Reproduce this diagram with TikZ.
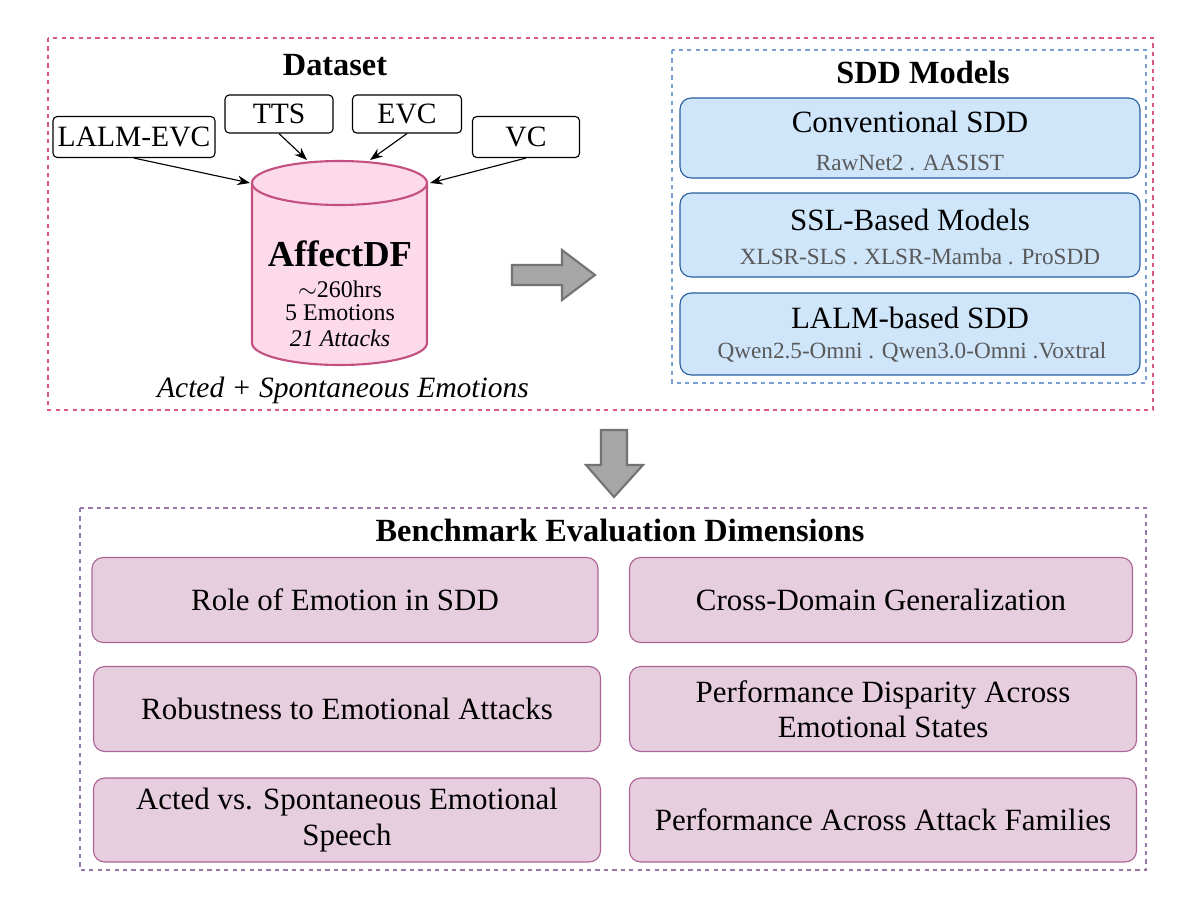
\documentclass[tikz,border=0pt]{standalone}
\usepackage{fontspec}
\setmainfont{Liberation Serif}
\usetikzlibrary{arrows.meta,positioning}
\definecolor{dspink}{RGB}{214,90,130}
\definecolor{cylfill}{RGB}{252,218,234}
\definecolor{cylline}{RGB}{196,80,130}
\definecolor{sddblue}{RGB}{120,160,210}
\definecolor{boxblue}{RGB}{206,229,250}
\definecolor{boxline}{RGB}{40,95,160}
\definecolor{evalfill}{RGB}{231,206,222}
\definecolor{evalline}{RGB}{170,100,150}
\definecolor{evaldash}{RGB}{150,120,170}
\tikzset{
  src/.style={draw,thick,rounded corners=3pt,font=\fontsize{21}{22}\selectfont},
  model/.style={draw=boxline,fill=boxblue,rounded corners=8pt,thick},
  evalbox/.style={draw=evalline,fill=evalfill,rounded corners=8pt,thick,align=center,font=\fontsize{22}{25}\selectfont},
  blockarrow/.style={draw=black!55,fill=black!35,line width=1.5pt},
  conn/.style={-{Stealth[length=9pt]},thick},
  stat/.style={font=\fontsize{17}{18}\selectfont,inner sep=0.5pt},
}
\begin{document}
\begin{tikzpicture}[x=0.025cm,y=-0.025cm]
\useasboundingbox (0,0) rectangle (1200,909);

% Dataset
\draw[dspink,dashed,thick] (48,38) rectangle (1153,410);
\node[font=\bfseries\fontsize{23}{26}\selectfont] (dtitle) at (335,65) {Dataset};
\node[src,minimum width=161*0.025cm,minimum height=41*0.025cm] (lalm) at (134,137) {LALM-EVC};
\node[src,minimum width=108*0.025cm,minimum height=38*0.025cm] (tts) at (279,114) {TTS};
\node[src,minimum width=109*0.025cm,minimum height=38*0.025cm] (evc) at (407,114) {EVC};
\node[src,minimum width=107*0.025cm,minimum height=41*0.025cm] (vc) at (526,137) {VC};

% cylinder
\draw[cylline,fill=cylfill,line width=1.5pt] (252,183) -- (252,343) arc[start angle=180,end angle=0,x radius=87.5,y radius=22] -- (427,183);
\draw[cylline,fill=cylfill,line width=1.5pt] (339.5,183) ellipse[x radius=87.5,y radius=22];
\coordinate (cyltl) at (250,183);
\coordinate (cyltt) at (307,160);
\coordinate (cyltr) at (370,160);
\coordinate (cylr) at (430,183);
\node[font=\bfseries\fontsize{26}{28}\selectfont,inner sep=1pt] (affect) at (340,254) {AffectDF};
\node[stat] (hrs) at (340,289) {$\sim$260hrs};
\node[stat] (emo) at (340,313) {5 Emotions};
\node[stat,font=\itshape\fontsize{17}{18}\selectfont] (att) at (340,338) {21 Attacks};
\node[font=\itshape\fontsize{21}{22}\selectfont] (acted) at (343,390) {Acted + Spontaneous Emotions};
\draw[conn] (lalm.south) -- (cyltl);
\draw[conn] (tts.south) -- (cyltt);
\draw[conn] (evc.south) -- (cyltr);
\draw[conn] (vc.south) -- (cylr);

% right arrow
\draw[blockarrow] (512,265) -- (562,265) -- (562,250) -- (595,275) -- (562,300) -- (562,285) -- (512,285) -- cycle;

% SDD models
\draw[sddblue,dashed,thick] (672,50) rectangle (1146,383);
\node[font=\bfseries\fontsize{23}{26}\selectfont] (stitle) at (923,72) {SDD Models};
\draw[model] (680,98) rectangle (1140,178);
\node[font=\fontsize{22}{24}\selectfont] (conv) at (910,122) {Conventional SDD};
\node[font=\fontsize{16.5}{18}\selectfont,text=black!65] (convsub) at (910,163) {RawNet2 . AASIST};
\draw[model] (680,193) rectangle (1140,277);
\node[font=\fontsize{22}{24}\selectfont] (ssl) at (910,220) {SSL-Based Models};
\node[font=\fontsize{16.5}{18}\selectfont,text=black!65] (sslsub) at (920,257) {XLSR-SLS . XLSR-Mamba . ProSDD};
\draw[model] (680,293) rectangle (1140,375);
\node[font=\fontsize{22}{24}\selectfont] (lalmsdd) at (910,318) {LALM-based SDD};
\node[font=\fontsize{16.5}{18}\selectfont,text=black!65] (lalmsub) at (912,352) {Qwen2.5-Omni . Qwen3.0-Omni .Voxtral};

% down arrow
\draw[blockarrow] (601,430) -- (627,430) -- (627,465) -- (643,465) -- (614,497) -- (586,465) -- (601,465) -- cycle;

% evaluation
\draw[evaldash,dashed,thick] (80,508) rectangle (1146,870);
\node[font=\bfseries\fontsize{23}{26}\selectfont] (etitle) at (620,530) {Benchmark Evaluation Dimensions};
\node[evalbox,minimum width=506*0.025cm,minimum height=85*0.025cm] (e1) at (345,600) {Role of Emotion in SDD};
\node[evalbox,minimum width=503*0.025cm,minimum height=85*0.025cm] (e2) at (881,600) {Cross-Domain Generalization};
\node[evalbox,minimum width=507*0.025cm,minimum height=85*0.025cm] (e3) at (347,709) {Robustness to Emotional Attacks};
\node[evalbox,minimum width=507*0.025cm,minimum height=85*0.025cm] (e4) at (883,709) {Performance Disparity Across\\Emotional States};
\node[evalbox,minimum width=507*0.025cm,minimum height=84*0.025cm] (e5) at (347,820) {Acted vs. Spontaneous Emotional\\Speech};
\node[evalbox,minimum width=507*0.025cm,minimum height=84*0.025cm] (e6) at (883,820) {Performance Across Attack Families};
\end{tikzpicture}
\end{document}
